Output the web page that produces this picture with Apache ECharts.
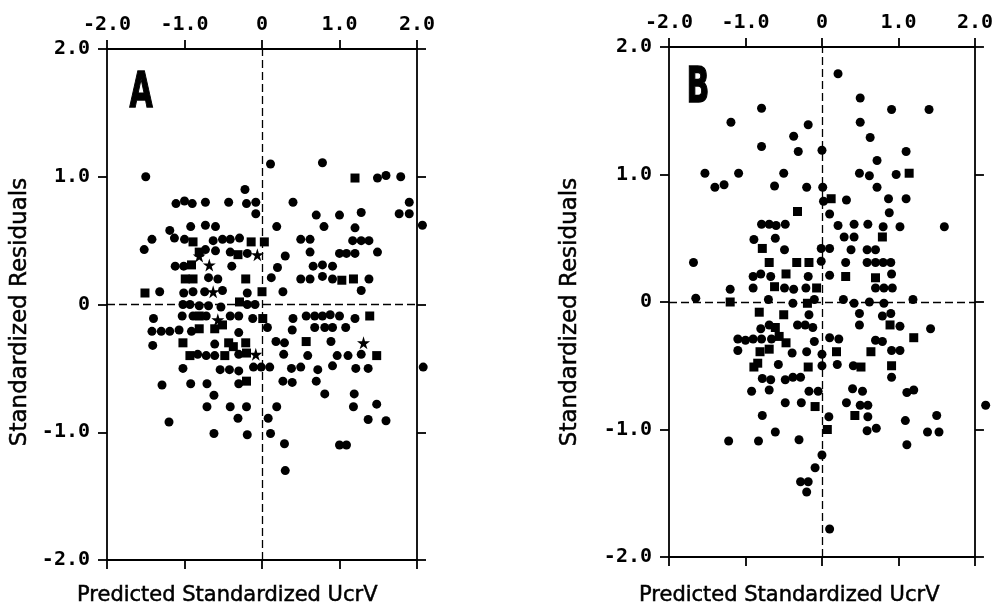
<!DOCTYPE html>
<html>
<head>
<meta charset="utf-8">
<script src="https://cdn.jsdelivr.net/npm/echarts@6/dist/echarts.min.js"></script>
<style>
html,body{margin:0;padding:0;background:#fff;}
#chart{width:996px;height:605px;}
</style>
</head>
<body>
<div id="chart"></div>
<script>
// ---- data ----
const tickValues = [-2, -1, 0, 1, 2];
const xTickLabels = ['-2.0', '-1.0', '0', '1.0', '2.0'];
const yTickLabels = ['-2.0', '-1.0', '0', '1.0', '2.0'];
const panelLabels = ['A', 'B'];
const xTitle = 'Predicted Standardized UcrV';
const yTitle = 'Standardized Residuals';

const aCircles = [
  [0.11,1.10],[0.78,1.11],[-1.50,1.00],[1.49,0.99],[1.60,1.01],[1.79,1.00],[-0.22,0.90],
  [-1.11,0.79],[-1.00,0.81],[-0.90,0.79],[-0.73,0.80],[-0.43,0.80],[-0.20,0.79],[-0.08,0.80],
  [-0.08,0.71],[0.40,0.80],[1.90,0.80],[1.77,0.71],[1.90,0.71],[0.70,0.70],[1.00,0.70],[1.28,0.72],
  [2.07,0.62],[-1.19,0.58],[-0.92,0.61],[-0.73,0.62],[-0.60,0.61],[0.19,0.61],[0.80,0.61],[1.20,0.60],
  [-1.52,0.43],[-1.42,0.51],[-1.13,0.52],[-1.00,0.51],[-0.63,0.50],[-0.51,0.51],[-0.41,0.51],[-0.29,0.52],
  [0.50,0.51],[0.62,0.51],[1.17,0.50],[1.28,0.50],[1.38,0.50],[-0.73,0.43],[-0.60,0.42],[-0.41,0.41],
  [-0.19,0.40],[0.30,0.38],[0.62,0.41],[1.00,0.40],[1.09,0.40],[1.20,0.40],[1.49,0.41],[-1.12,0.30],
  [-1.01,0.30],[-0.39,0.30],[0.20,0.29],[0.66,0.30],[0.78,0.31],[0.91,0.30],[-0.69,0.21],[-0.57,0.20],
  [0.12,0.21],[0.50,0.20],[0.62,0.20],[0.78,0.22],[0.91,0.20],[1.38,0.20],[-1.32,0.10],[-1.01,0.09],
  [-0.89,0.10],[-0.74,0.10],[-0.51,0.11],[-0.19,0.09],[0.27,0.10],[1.28,0.11],[-1.02,0.00],[-0.93,0.00],
  [-0.81,-0.01],[-0.69,-0.01],[-0.53,-0.02],[-0.19,0.00],[-0.09,0.00],[-1.40,-0.11],[-1.03,-0.09],
  [-0.89,-0.09],[-0.72,-0.09],[-0.41,-0.09],[-0.30,-0.09],[-0.12,-0.11],[0.40,-0.11],[0.57,-0.09],
  [0.68,-0.09],[0.78,-0.09],[0.88,-0.08],[1.00,-0.09],[1.20,-0.11],[-1.42,-0.21],[-1.30,-0.21],
  [-1.19,-0.21],[-1.07,-0.20],[-0.91,-0.21],[-0.30,-0.22],[0.07,-0.18],[0.39,-0.20],[0.68,-0.18],
  [0.81,-0.18],[0.91,-0.18],[1.08,-0.18],[-1.41,-0.32],[-0.61,-0.31],[0.18,-0.29],[0.29,-0.30],
  [0.89,-0.29],[-0.83,-0.39],[-0.72,-0.40],[-0.61,-0.40],[-0.30,-0.39],[0.28,-0.39],[0.59,-0.40],
  [0.97,-0.40],[1.11,-0.40],[1.28,-0.39],[-1.02,-0.50],[-0.54,-0.51],[-0.42,-0.51],[-0.30,-0.52],
  [-0.11,-0.49],[-0.01,-0.49],[0.10,-0.49],[0.38,-0.50],[0.50,-0.49],[0.72,-0.51],[0.91,-0.48],
  [1.21,-0.50],[1.37,-0.50],[2.08,-0.49],[-0.92,-0.62],[-0.71,-0.62],[-0.30,-0.62],[0.27,-0.60],
  [0.39,-0.61],[0.70,-0.60],[-1.29,-0.63],[-0.62,-0.71],[0.81,-0.70],[1.19,-0.70],[-0.71,-0.80],
  [-0.41,-0.80],[-0.20,-0.80],[0.19,-0.80],[1.18,-0.80],[1.48,-0.78],[-1.20,-0.92],[-0.31,-0.89],
  [0.08,-0.89],[1.37,-0.90],[1.60,-0.91],[-0.62,-1.01],[-0.19,-1.02],[0.11,-1.01],[1.00,-1.10],
  [1.09,-1.10],[0.29,-1.09],[0.30,-1.30]
];
const aSquares = [
  [1.20,0.99],[-0.89,0.49],[-0.14,0.49],[0.03,0.49],[-0.81,0.41],[-0.31,0.39],[-0.91,0.31],
  [-0.99,0.20],[-0.89,0.20],[-0.21,0.20],[1.03,0.19],[1.18,0.20],[-1.51,0.09],[0.00,0.10],
  [-0.29,0.02],[-0.81,-0.09],[0.01,-0.11],[1.39,-0.09],[-0.81,-0.19],[-0.61,-0.19],[-0.51,-0.16],
  [-1.02,-0.30],[-0.43,-0.30],[-0.21,-0.30],[0.57,-0.29],[-0.93,-0.40],[-0.48,-0.40],[-0.20,-0.38],
  [-0.20,-0.60],[1.48,-0.40],[-0.37,-0.33]
];
const aStars = [
  [-0.81,0.38],[-0.68,0.31],[-0.63,0.10],[-0.57,-0.12],[-0.06,0.39],[-0.08,-0.39],[1.31,-0.30]
];

const bCircles = [
  [0.21,1.79],[0.50,1.60],[-0.79,1.52],[0.91,1.51],[1.40,1.51],[-1.19,1.41],[-0.18,1.39],[0.50,1.41],
  [-0.37,1.30],[0.63,1.29],[-0.79,1.22],[-0.31,1.18],[0.00,1.19],[1.10,1.18],[0.72,1.11],[-1.53,1.01],
  [-1.09,1.01],[-0.50,1.01],[0.49,1.01],[0.62,0.99],[0.97,1.00],[-1.40,0.90],[-1.28,0.92],[-0.62,0.91],
  [-0.20,0.90],[0.01,0.90],[0.72,0.90],[0.02,0.79],[0.32,0.80],[0.87,0.81],[1.10,0.81],[0.10,0.69],
  [0.88,0.70],[-0.79,0.61],[-0.69,0.61],[-0.60,0.60],[-0.48,0.61],[0.21,0.60],[0.42,0.61],[0.60,0.61],
  [0.80,0.59],[1.02,0.59],[1.60,0.59],[-0.89,0.49],[-0.61,0.50],[0.29,0.51],[0.42,0.51],[-0.49,0.41],
  [-0.01,0.42],[0.10,0.42],[0.38,0.41],[0.59,0.41],[0.70,0.41],[-1.68,0.31],[-0.01,0.32],[0.31,0.31],
  [0.59,0.31],[0.70,0.31],[0.80,0.31],[0.90,0.31],[-0.90,0.20],[-0.80,0.22],[-0.67,0.20],[-0.18,0.20],
  [0.10,0.21],[0.91,0.22],[-1.20,0.10],[-0.90,0.11],[-0.49,0.11],[-0.37,0.10],[-0.21,0.11],[0.70,0.11],
  [0.81,0.11],[0.92,0.11],[-1.65,0.03],[-0.70,0.02],[-0.38,-0.01],[-0.10,0.02],[0.28,0.02],[0.42,-0.01],
  [0.62,0.00],[0.81,-0.01],[1.19,0.02],[-0.17,-0.10],[0.49,-0.09],[0.79,-0.11],[0.90,-0.09],
  [-0.80,-0.21],[-0.69,-0.18],[-0.32,-0.18],[-0.22,-0.18],[-0.12,-0.20],[0.49,-0.18],[1.02,-0.19],
  [1.42,-0.21],[-1.10,-0.29],[-1.00,-0.30],[-0.90,-0.29],[-0.79,-0.29],[-0.66,-0.29],[-0.10,-0.31],
  [0.10,-0.28],[0.22,-0.29],[0.70,-0.30],[0.79,-0.31],[-1.10,-0.38],[-0.39,-0.40],[-0.20,-0.39],
  [0.00,-0.41],[0.91,-0.38],[1.02,-0.38],[-0.57,-0.49],[0.00,-0.50],[0.20,-0.49],[0.41,-0.50],
  [-0.78,-0.60],[-0.67,-0.61],[-0.48,-0.61],[-0.38,-0.59],[-0.28,-0.59],[0.91,-0.59],[-0.92,-0.70],
  [-0.69,-0.69],[-0.17,-0.70],[-0.05,-0.70],[0.40,-0.68],[0.53,-0.70],[1.11,-0.71],[1.20,-0.69],
  [-0.48,-0.79],[-0.27,-0.79],[0.32,-0.79],[0.50,-0.81],[0.60,-0.81],[2.14,-0.81],[-0.78,-0.89],
  [0.09,-0.90],[0.60,-0.90],[1.50,-0.89],[1.09,-0.93],[-0.61,-1.02],[0.59,-1.01],[0.71,-0.99],
  [1.38,-1.02],[1.53,-1.02],[-1.22,-1.09],[-0.83,-1.09],[-0.30,-1.08],[1.11,-1.12],[0.00,-1.20],
  [-0.09,-1.30],[-0.28,-1.41],[-0.18,-1.41],[-0.20,-1.49],[0.10,-1.78]
];
const bSquares = [
  [1.14,1.01],[0.12,0.81],[-0.32,0.71],[0.79,0.51],[-0.78,0.42],[-0.69,0.31],[-0.33,0.31],[-0.17,0.31],
  [-0.47,0.22],[0.31,0.20],[0.70,0.19],[-0.62,0.12],[-0.07,0.11],[-1.20,0.00],[-0.19,-0.01],
  [-0.82,-0.08],[-0.50,-0.10],[-0.61,-0.20],[0.89,-0.18],[-0.56,-0.27],[1.20,-0.28],[-0.47,-0.32],
  [-0.81,-0.39],[-0.69,-0.37],[0.19,-0.39],[0.64,-0.39],[-0.89,-0.51],[-0.84,-0.48],[-0.18,-0.51],
  [0.51,-0.51],[0.91,-0.50],[-0.09,-0.82],[0.43,-0.89],[0.07,-1.00]
];

// ---- layout / style ----
const grids = [
  {left: 107, top: 49, width: 310, height: 511},
  {left: 669, top: 47, width: 307, height: 510}
];
const BLACK = '#000';
const tickFont = {fontFamily: 'DejaVu Sans Mono', fontWeight: 'bold', fontSize: 20, color: BLACK};
const STAR = 'path://M50,0 L61,35 L98,35 L68,57 L79,91 L50,70 L21,91 L32,57 L2,35 L39,35 Z';

function labelFor(arr) {
  return function (v) {
    const i = tickValues.indexOf(Math.round(v * 1000) / 1000);
    return i >= 0 ? arr[i] : '';
  };
}
function axisBase(gridIndex, position, showLabel, labels) {
  return {
    type: 'value', gridIndex: gridIndex, position: position,
    min: -2, max: 2, interval: 1,
    splitLine: {show: false},
    axisLine: {show: true, onZero: false, lineStyle: {color: BLACK, width: 1.8}},
    axisTick: {show: true, inside: false, length: 9, lineStyle: {color: BLACK, width: 1.8}},
    axisLabel: showLabel ? Object.assign({show: true, margin: position === 'top' ? 14 : 17,
      showMinLabel: true, showMaxLabel: true, formatter: labelFor(labels)}, tickFont) : {show: false}
  };
}

const xAxes = [], yAxes = [], series = [];
[0, 1].forEach(function (g) {
  xAxes.push(axisBase(g, 'top', true, xTickLabels));
  xAxes.push(axisBase(g, 'bottom', false));
  yAxes.push(axisBase(g, 'left', true, yTickLabels));
  yAxes.push(axisBase(g, 'right', false));
});

function scatter(g, data, symbol, size, withLines) {
  const s = {
    type: 'scatter', xAxisIndex: g * 2, yAxisIndex: g * 2, data: data,
    symbol: symbol, symbolSize: size, clip: false, silent: true,
    itemStyle: {color: BLACK, opacity: 1}
  };
  if (withLines) {
    s.markLine = {
      silent: true, symbol: ['none', 'none'], label: {show: false},
      lineStyle: {type: [8, 4], color: BLACK, width: 1.3},
      data: [{xAxis: 0}, {yAxis: 0}]
    };
  }
  return s;
}
series.push(scatter(0, aCircles, 'circle', 9, true));
series.push(scatter(0, aSquares, 'rect', 9, false));
series.push(scatter(0, aStars, STAR, 13, false));
series.push(scatter(1, bCircles, 'circle', 9, true));
series.push(scatter(1, bSquares, 'rect', 9, false));

const graphics = [];
const panelPos = [[141, 94], [698, 89]];
const yTitleX = [20, 570];
const xTitleX = [77, 639];
const titleStyle = {fill: BLACK, stroke: BLACK, lineWidth: 0.5};
[0, 1].forEach(function (g) {
  graphics.push({type: 'text', x: panelPos[g][0], y: panelPos[g][1], scaleX: 0.6,
    style: {text: panelLabels[g], fill: BLACK, stroke: BLACK, lineWidth: 1.5, font: 'bold 50px "DejaVu Sans"', textAlign: 'center', textVerticalAlign: 'middle'}});
  graphics.push({type: 'text', x: yTitleX[g], y: 312, rotation: Math.PI / 2,
    style: Object.assign({text: yTitle, font: '23px "DejaVu Sans"', textAlign: 'center', textVerticalAlign: 'middle'}, titleStyle)});
  graphics.push({type: 'text', x: xTitleX[g], y: 596,
    style: Object.assign({text: xTitle, font: '21px "DejaVu Sans"', textAlign: 'left', textVerticalAlign: 'middle'}, titleStyle)});
});

const chart = echarts.init(document.getElementById('chart'), null, {renderer: 'canvas'});
chart.setOption({
  backgroundColor: '#fff',
  animation: false,
  grid: grids,
  xAxis: xAxes,
  yAxis: yAxes,
  series: series,
  graphic: graphics
});
</script>
</body>
</html>
